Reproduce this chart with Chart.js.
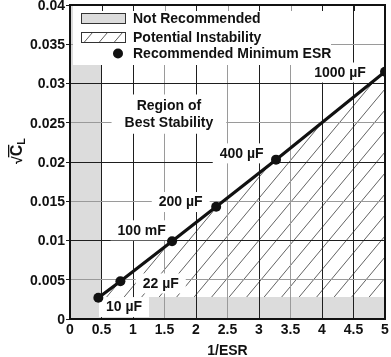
<!DOCTYPE html>
<html><head><meta charset="utf-8">
<script src="https://cdn.jsdelivr.net/npm/chart.js@4/dist/chart.umd.min.js"></script>
<style>html,body{margin:0;padding:0;background:#fff}#wrap{width:391px;height:357px}</style>
</head><body><div id="wrap"><canvas id="c" width="391" height="357"></canvas></div>
<script>
// ---- data ----
const esrInv = [0.45, 0.8, 1.62, 2.32, 3.27, 5.0];            // 1/ESR
const sqrtCL = [0.0027, 0.0048, 0.0099, 0.0143, 0.0203, 0.0315]; // sqrt(CL)
const capLabels = ['10 µF', '22 µF', '100 mF', '200 µF', '400 µF', '1000 µF'];
const xTickValues = [0, 0.5, 1, 1.5, 2, 2.5, 3, 3.5, 4, 4.5, 5];
const xTickLabels = ['0', '0.5', '1', '1.5', '2', '2.5', '3', '3.5', '4', '4.5', '5'];
const yTickValues = [0, 0.005, 0.01, 0.015, 0.02, 0.025, 0.03, 0.035, 0.04];
const yTickLabels = ['0', '0.005', '0.01', '0.015', '0.02', '0.025', '0.03', '0.035', '0.04'];
const notRecEsrMax = 0.5;     // grey strip on the left (1/ESR below this)
const notRecCapMax = 0.0028;  // grey strip at the bottom
const legendLabels = ['Not Recommended', 'Potential Instability', 'Recommended Minimum ESR'];
const regionText = ['Region of', 'Best Stability'];
const xTitle = '1/ESR';

// annotation anchors (data units)
const capLabelAt = [[0.857, 0.00152], [1.44, 0.00453], [1.138, 0.0113], [1.757, 0.0149], [2.725, 0.0211], [4.286, 0.0314]];
const regionAt = [1.57, 0.0272, 0.0250];

const FONT = '"Liberation Sans", Arial, Helvetica, sans-serif';
const GREY = '#dcdcdc';
function gridCol(isX, v) {
  if (isX) return [1.5, 2.5, 3.5].includes(v) ? '#9a9a9a' : '#1e1e1e';
  return Math.round(v / 0.005) % 2 === 1 ? '#9a9a9a' : '#1e1e1e';
}

const underlay = {
  id: 'underlay',
  beforeDraw(chart) {
    const {ctx, chartArea: a, scales: {x, y}} = chart;
    ctx.save();
    ctx.fillStyle = '#fff';
    ctx.fillRect(0, 0, chart.width, chart.height);
    // hatched region under the line
    ctx.save();
    ctx.beginPath();
    esrInv.forEach((v, i) => {
      const px = x.getPixelForValue(v), py = y.getPixelForValue(sqrtCL[i]);
      if (i) ctx.lineTo(px, py); else ctx.moveTo(px, py);
    });
    ctx.lineTo(x.getPixelForValue(esrInv[esrInv.length - 1]), y.getPixelForValue(0));
    ctx.lineTo(x.getPixelForValue(esrInv[0]), y.getPixelForValue(0));
    ctx.closePath();
    ctx.clip();
    ctx.beginPath();
    const h = a.bottom - a.top, slope = 1.2;
    for (let k = a.left - h / slope; k < a.right + 20; k += 17.5) {
      ctx.moveTo(k, a.bottom);
      ctx.lineTo(k + h / slope, a.top);
    }
    ctx.strokeStyle = '#3a3a3a';
    ctx.lineWidth = 0.8;
    ctx.stroke();
    ctx.restore();
    // grey "not recommended" strips
    ctx.fillStyle = GREY;
    const xr = x.getPixelForValue(notRecEsrMax);
    ctx.fillRect(a.left, a.top, xr - a.left, h);
    const yt = y.getPixelForValue(notRecCapMax);
    ctx.fillRect(a.left, yt, a.right - a.left, a.bottom - yt);
    ctx.restore();
  }
};

function textBox(ctx, lines, cx, cys, padX, padY) {
  ctx.font = 'bold 14px ' + FONT;
  let w = 0;
  lines.forEach(t => { w = Math.max(w, ctx.measureText(t).width); });
  const top = Math.min(...cys) - 7 - padY, bot = Math.max(...cys) + 7 + padY;
  ctx.fillStyle = '#fff';
  ctx.fillRect(cx - w / 2 - padX, top, w + 2 * padX, bot - top);
  ctx.fillStyle = '#111';
  ctx.textAlign = 'center';
  ctx.textBaseline = 'middle';
  lines.forEach((t, i) => ctx.fillText(t, cx, cys[i] + 0.5));
}

const overlay = {
  id: 'overlay',
  beforeDatasetsDraw(chart) {
    const {ctx, chartArea: a, scales: {x, y}} = chart;
    ctx.save();
    // legend
    ctx.fillStyle = '#fff';
    ctx.fillRect(a.left + 3, a.top, 258, 60);
    ctx.lineWidth = 1;
    ctx.strokeStyle = '#333';
    ctx.fillStyle = GREY;
    ctx.fillRect(a.left + 11.5, a.top + 8.5, 44, 10);
    ctx.strokeRect(a.left + 11.5, a.top + 8.5, 44, 10);
    ctx.fillStyle = '#fff';
    ctx.fillRect(a.left + 11.5, a.top + 27.5, 44, 10);
    ctx.strokeRect(a.left + 11.5, a.top + 27.5, 44, 10);
    ctx.beginPath();
    for (let k = 0; k < 3; k++) {
      const x0 = a.left + 14 + k * 15;
      ctx.moveTo(x0, a.top + 37.5);
      ctx.lineTo(x0 + 8.5, a.top + 27.5);
    }
    ctx.lineWidth = 0.8;
    ctx.stroke();
    ctx.beginPath();
    ctx.arc(a.left + 48, a.top + 48.5, 5, 0, Math.PI * 2);
    ctx.fillStyle = '#111';
    ctx.fill();
    ctx.font = 'bold 14px ' + FONT;
    ctx.textAlign = 'left';
    ctx.textBaseline = 'middle';
    ctx.fillStyle = '#111';
    [14.5, 33, 49.5].forEach((dy, i) => ctx.fillText(legendLabels[i], a.left + 63, a.top + dy));
    // top inner ticks
    ctx.lineWidth = 1;
    xTickValues.slice(1, -1).forEach(v => {
      const px = Math.round(x.getPixelForValue(v)) + 0.5;
      ctx.beginPath();
      ctx.moveTo(px, a.top);
      ctx.lineTo(px, a.top + 6);
      ctx.strokeStyle = gridCol(true, v);
      ctx.stroke();
    });
    // region text
    textBox(ctx, regionText, x.getPixelForValue(regionAt[0]),
      [y.getPixelForValue(regionAt[1]), y.getPixelForValue(regionAt[2])], 13, 4);
    // capacitor labels
    capLabels.forEach((t, i) => {
      textBox(ctx, [t], x.getPixelForValue(capLabelAt[i][0]), [y.getPixelForValue(capLabelAt[i][1])], 7, 3);
    });
    // frame
    ctx.strokeStyle = '#111';
    ctx.lineWidth = 2;
    ctx.strokeRect(a.left, a.top, a.right - a.left, a.bottom - a.top);
    ctx.restore();
  },
  afterDraw(chart) {
    const {ctx, chartArea: a} = chart;
    ctx.save();
    ctx.fillStyle = '#111';
    // x title
    ctx.font = 'bold 14px ' + FONT;
    ctx.textAlign = 'center';
    ctx.textBaseline = 'middle';
    ctx.fillText(xTitle, (a.left + a.right) / 2, 351);
    // y title: sqrt(C_L) rotated
    ctx.translate(22, 164);
    ctx.rotate(-Math.PI / 2);
    ctx.textAlign = 'left';
    ctx.textBaseline = 'alphabetic';
    ctx.font = 'bold 14px ' + FONT;
    ctx.fillText('√', 0, 0);
    const wr = ctx.measureText('√').width;
    ctx.font = 'bold 16px ' + FONT;
    ctx.fillText('C', wr, 0);
    const wc = ctx.measureText('C').width;
    ctx.fillRect(wr - 1, -14, wc + 1, 1.3);
    ctx.font = 'bold 11px ' + FONT;
    ctx.fillText('L', wr + wc, 3);
    ctx.restore();
  }
};

new Chart(document.getElementById('c'), {
  type: 'scatter',
  data: {
    datasets: [{
      data: esrInv.map((v, i) => ({x: v, y: sqrtCL[i]})),
      showLine: true,
      borderColor: '#111',
      backgroundColor: '#111',
      borderWidth: 3.2,
      pointRadius: 5,
      pointHoverRadius: 5,
      pointBackgroundColor: '#111',
      pointBorderWidth: 0
    }]
  },
  options: {
    responsive: false,
    animation: false,
    events: [],
    layout: {padding: {left: 0, top: 5, right: 6, bottom: 0}},
    plugins: {legend: {display: false}, tooltip: {enabled: false}},
    scales: {
      x: {
        type: 'linear', min: 0, max: 5,
        afterBuildTicks: s => { s.ticks = xTickValues.map(v => ({value: v})); },
        afterFit: s => { s.height = 38; s.paddingLeft = 0; s.paddingRight = 0; },
        ticks: {
          autoSkip: false, maxRotation: 0, padding: 0,
          color: '#111', font: {family: FONT, size: 14, weight: 'bold'},
          callback: (v, i) => xTickLabels[i]
        },
        grid: {
          color: c => gridCol(true, c.tick ? c.tick.value : 0),
          lineWidth: 1, tickLength: 3, tickColor: 'rgba(0,0,0,0)'
        },
        border: {display: false}
      },
      y: {
        type: 'linear', min: 0, max: 0.04,
        afterBuildTicks: s => { s.ticks = yTickValues.map(v => ({value: v})); },
        afterFit: s => { s.width = 70; s.paddingTop = 0; s.paddingBottom = 0; },
        ticks: {
          autoSkip: false, padding: 1, labelOffset: 1,
          color: '#111', font: {family: FONT, size: 14, weight: 'bold'},
          callback: (v, i) => yTickLabels[i]
        },
        grid: {
          color: c => gridCol(false, c.tick ? c.tick.value : 0),
          lineWidth: 1, tickLength: 4, tickColor: '#1e1e1e'
        },
        border: {display: false}
      }
    }
  },
  plugins: [underlay, overlay]
});
</script>
</body></html>
